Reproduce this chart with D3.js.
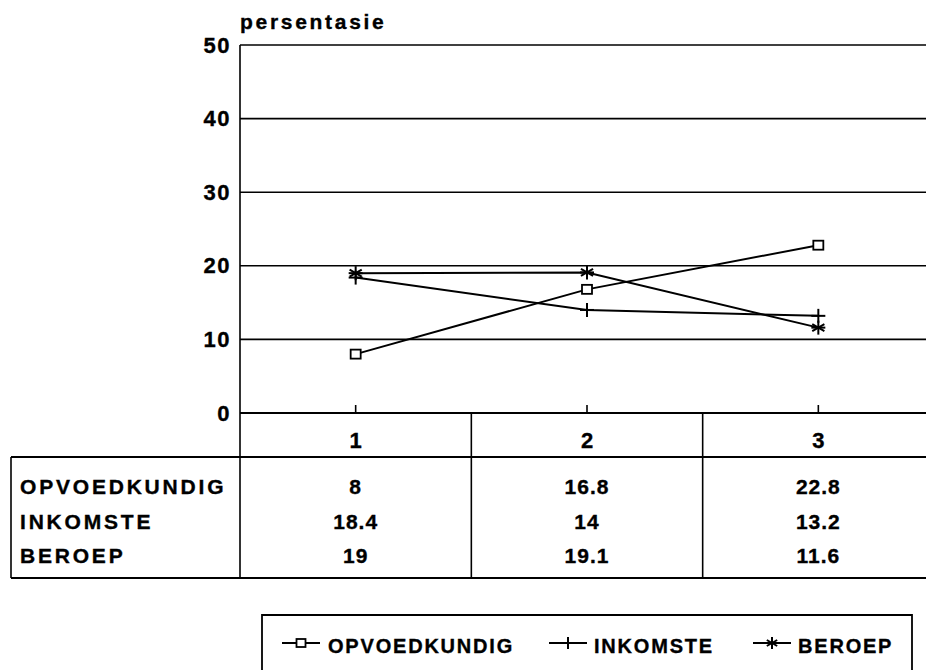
<!DOCTYPE html>
<html>
<head>
<meta charset="utf-8">
<script src="https://cdn.jsdelivr.net/npm/d3@7"></script>
<style>
  html, body { margin: 0; padding: 0; background: #fff; }
  svg { display: block; }
  text { font-family: "Liberation Sans", Arial, Helvetica, sans-serif; font-weight: bold; fill: #000; stroke: #000; stroke-width: 0.35px; }
</style>
</head>
<body>
<svg id="chart" width="926" height="670"></svg>
<script>
const categories = ["1", "2", "3"];
const seriesNames = ["OPVOEDKUNDIG", "INKOMSTE", "BEROEP"];
const opvoedkundig = [8, 16.8, 22.8];
const inkomste = [18.4, 14, 13.2];
const beroep = [19, 19.1, 11.6];
const tableText = [["8", "16.8", "22.8"], ["18.4", "14", "13.2"], ["19", "19.1", "11.6"]];
const yTicks = [0, 10, 20, 30, 40, 50];
const yTitle = "persentasie";
const symbols = ["square", "plus", "star"];

const series = [opvoedkundig, inkomste, beroep];

const svg = d3.select("#chart");
const W = 926;
const axisX = 240, tableLeft = 11;
const plotTop = 45, plotBottom = 413;
const headerBottom = 457, tableBottom = 578;

const x = d3.scaleBand().domain(categories).range([axisX, 934]);
const y = d3.scaleLinear().domain([0, 50]).range([plotBottom, plotTop]);
const xc = c => x(c) + x.bandwidth() / 2;

// gridlines
svg.append("g").selectAll("line").data(yTicks.filter(t => t > 0)).join("line")
  .attr("x1", axisX).attr("x2", W)
  .attr("y1", d => y(d)).attr("y2", d => y(d))
  .attr("stroke", "#000").attr("stroke-width", 1.6);

// y axis via d3
const yAxis = d3.axisLeft(y).tickValues(yTicks).tickSize(0).tickPadding(9);
const gy = svg.append("g").attr("transform", `translate(${axisX},0)`).call(yAxis);
gy.select(".domain").remove();
gy.selectAll("text").style("font-size", "22px").style("letter-spacing", "1.5px")
  .style("font-family", '"Liberation Sans", Arial, sans-serif').style("font-weight", "bold")
  .attr("fill", "#000").attr("stroke", "#000").attr("stroke-width", 0.35);

// axis title
svg.append("text").attr("x", axisX).attr("y", 29).text(yTitle)
  .style("font-size", "21px").style("letter-spacing", "2.7px");

// vertical axis line (through table)
svg.append("line").attr("x1", axisX).attr("x2", axisX).attr("y1", plotTop).attr("y2", tableBottom)
  .attr("stroke", "#000").attr("stroke-width", 1.6);
// x axis line
svg.append("line").attr("x1", axisX).attr("x2", W).attr("y1", plotBottom).attr("y2", plotBottom)
  .attr("stroke", "#000").attr("stroke-width", 1.8);
// x ticks
svg.append("g").selectAll("line").data(categories).join("line")
  .attr("x1", d => xc(d)).attr("x2", d => xc(d))
  .attr("y1", plotBottom - 8).attr("y2", plotBottom)
  .attr("stroke", "#000").attr("stroke-width", 1.6);

// table lines
svg.append("line").attr("x1", tableLeft).attr("x2", W).attr("y1", headerBottom).attr("y2", headerBottom)
  .attr("stroke", "#000").attr("stroke-width", 1.8);
svg.append("line").attr("x1", tableLeft).attr("x2", W).attr("y1", tableBottom).attr("y2", tableBottom)
  .attr("stroke", "#000").attr("stroke-width", 1.8);
svg.append("line").attr("x1", tableLeft).attr("x2", tableLeft).attr("y1", headerBottom).attr("y2", tableBottom)
  .attr("stroke", "#000").attr("stroke-width", 1.6);
svg.append("g").selectAll("line").data(categories.slice(1)).join("line")
  .attr("x1", d => x(d)).attr("x2", d => x(d))
  .attr("y1", plotBottom).attr("y2", tableBottom)
  .attr("stroke", "#000").attr("stroke-width", 1.6);

// category header labels
svg.append("g").selectAll("text").data(categories).join("text")
  .attr("x", d => xc(d)).attr("y", 448).attr("text-anchor", "middle")
  .style("font-size", "22px").text(d => d);

// row labels and values
const rowY = [494, 529, 563];
svg.append("g").selectAll("text").data(seriesNames).join("text")
  .attr("x", 20).attr("y", (d, i) => rowY[i])
  .style("font-size", "21px").style("letter-spacing", "2.8px").text(d => d);

tableText.forEach((row, i) => {
  svg.append("g").selectAll("text").data(row).join("text")
    .attr("x", (d, j) => xc(categories[j])).attr("y", rowY[i]).attr("text-anchor", "middle")
    .style("font-size", "21px").style("letter-spacing", "1px").text(d => d);
});

// lines
const line = d3.line().x((d, i) => xc(categories[i])).y(d => y(d));
series.forEach((s, k) => {
  svg.append("path").datum(s).attr("d", line)
    .attr("fill", "none").attr("stroke", "#000").attr("stroke-width", 2);
});

function drawSymbol(g, type, cx, cy, size) {
  if (type === "square") {
    g.append("rect").attr("x", cx - size / 2).attr("y", cy - size / 2 + 0.5)
      .attr("width", size).attr("height", size - 1)
      .attr("fill", "#fff").attr("stroke", "#000").attr("stroke-width", 1.8);
  } else if (type === "plus") {
    g.append("line").attr("x1", cx - size / 2).attr("x2", cx + size / 2).attr("y1", cy).attr("y2", cy)
      .attr("stroke", "#000").attr("stroke-width", 2);
    g.append("line").attr("x1", cx).attr("x2", cx).attr("y1", cy - size / 2).attr("y2", cy + size / 2)
      .attr("stroke", "#000").attr("stroke-width", 2);
  } else {
    const r = size / 2;
    [0, 60, 120].forEach(a => {
      const rad = a * Math.PI / 180;
      g.append("line")
        .attr("x1", cx - r * Math.sin(rad)).attr("y1", cy - r * Math.cos(rad))
        .attr("x2", cx + r * Math.sin(rad)).attr("y2", cy + r * Math.cos(rad))
        .attr("stroke", "#000").attr("stroke-width", 2);
    });
    g.append("line").attr("x1", cx - r).attr("x2", cx + r).attr("y1", cy).attr("y2", cy)
      .attr("stroke", "#000").attr("stroke-width", 2);
  }
}

const markG = svg.append("g");
series.forEach((s, k) => {
  s.forEach((v, i) => {
    drawSymbol(markG, symbols[k], xc(categories[i]), y(v), k === 0 ? 10 : 14);
  });
});

// legend
const legTop = 615, legLeft = 262, legRight = 912;
svg.append("path")
  .attr("d", `M${legLeft},${W}V${legTop}H${legRight}V${W}`)
  .attr("fill", "none").attr("stroke", "#000").attr("stroke-width", 1.8);
const legItems = [
  { sym: symbols[0], name: seriesNames[0], lx: 282, tx: 328 },
  { sym: symbols[1], name: seriesNames[1], lx: 549, tx: 594 },
  { sym: symbols[2], name: seriesNames[2], lx: 753, tx: 798 }
];
const legY = 643;
const lg = svg.append("g");
legItems.forEach(it => {
  lg.append("line").attr("x1", it.lx).attr("x2", it.lx + 38).attr("y1", legY).attr("y2", legY)
    .attr("stroke", "#000").attr("stroke-width", 2);
  drawSymbol(lg, it.sym, it.lx + 19, legY, it.sym === "square" ? 9 : 12);
  lg.append("text").attr("x", it.tx).attr("y", 653)
    .style("font-size", "20px").style("letter-spacing", "1.8px").text(it.name);
});
</script>
</body>
</html>
